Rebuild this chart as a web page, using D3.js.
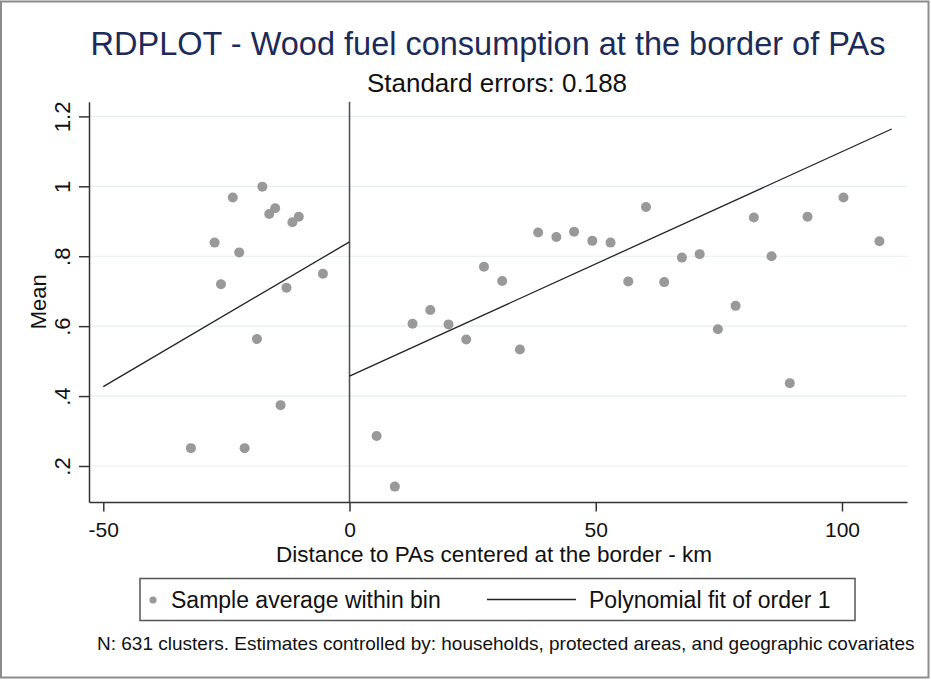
<!DOCTYPE html>
<html>
<head>
<meta charset="utf-8">
<script src="https://cdn.jsdelivr.net/npm/d3@7"></script>
<style>
  html, body { margin: 0; padding: 0; background: #fff; }
  svg { display: block; font-family: "Liberation Sans", Arial, Helvetica, sans-serif; }
</style>
</head>
<body>
<svg id="chart" width="931" height="681"></svg>
<script>
// ---- data ----
const binX = [-32.2, -27.4, -26.1, -23.7, -22.4, -21.3, -18.8, -17.7, -16.3, -15.1, -14.0, -12.8, -11.6, -10.3, -5.4,
              5.5, 9.2, 12.8, 16.4, 20.1, 23.7, 27.3, 31.0, 34.6, 38.3, 42.0, 45.6, 49.3, 53.0, 56.6,
              60.2, 63.9, 67.5, 71.1, 74.8, 78.4, 82.1, 85.7, 89.4, 93.0, 100.3, 107.6];
const binMean = [0.251, 0.839, 0.720, 0.968, 0.811, 0.251, 0.563, 0.999, 0.921, 0.937, 0.374, 0.710, 0.897, 0.913, 0.750,
                 0.286, 0.141, 0.607, 0.646, 0.605, 0.562, 0.770, 0.729, 0.533, 0.868, 0.855, 0.870, 0.844, 0.839, 0.728,
                 0.941, 0.726, 0.796, 0.806, 0.591, 0.658, 0.911, 0.800, 0.437, 0.913, 0.968, 0.843];
const fitLeftX = [-50, 0];
const fitLeftY = [0.427, 0.841];
const fitRightX = [0, 110.1];
const fitRightY = [0.457, 1.164];
const xTicks = [-50, 0, 50, 100];
const xTickLabels = ["-50", "0", "50", "100"];
const yTicks = [0.2, 0.4, 0.6, 0.8, 1.0, 1.2];
const yTickLabels = [".2", ".4", ".6", ".8", "1", "1.2"];
const titleText = "RDPLOT - Wood fuel consumption at the border of PAs";
const subtitleText = "Standard errors: 0.188";
const xTitle = "Distance to PAs centered at the border - km";
const yTitle = "Mean";
const legendLabels = ["Sample average within bin", "Polynomial fit of order 1"];
const noteText = "N: 631 clusters. Estimates controlled by: households, protected areas, and geographic covariates";

// ---- layout ----
const svg = d3.select("#chart");
const L = 89, R = 907, T = 101.7, B = 502;
const x = d3.scaleLinear().domain([-52.9, 113.2]).range([L, R]);
const y = d3.scaleLinear().domain([0.097, 1.242]).range([B, T]);

// outer border
svg.append("rect").attr("x", 1).attr("y", 1.5).attr("width", 927.5).attr("height", 676)
  .attr("fill", "#fff").attr("stroke", "#8c8c8c").attr("stroke-width", 2);

// grid
svg.append("g").selectAll("line").data(yTicks).join("line")
  .attr("x1", L).attr("x2", R)
  .attr("y1", d => y(d)).attr("y2", d => y(d))
  .attr("stroke", "#e6eef1").attr("stroke-width", 1.2);

// cutoff line
svg.append("line").attr("x1", x(0)).attr("x2", x(0)).attr("y1", T).attr("y2", B)
  .attr("stroke", "#555").attr("stroke-width", 1.6);

// points
svg.append("g").selectAll("circle").data(binX.map((d, i) => [d, binMean[i]])).join("circle")
  .attr("cx", d => x(d[0])).attr("cy", d => y(d[1])).attr("r", 5)
  .attr("fill", "#999");

// fit lines
const line = d3.line().x(d => x(d[0])).y(d => y(d[1]));
[[fitLeftX, fitLeftY], [fitRightX, fitRightY]].forEach(([xs, ys]) => {
  svg.append("path").datum(xs.map((d, i) => [d, ys[i]])).attr("d", line)
    .attr("fill", "none").attr("stroke", "#222").attr("stroke-width", 1.3);
});

// x axis
const xAxis = svg.append("g").attr("transform", `translate(0,${B})`)
  .call(d3.axisBottom(x).tickValues(xTicks).tickFormat((d, i) => xTickLabels[i]).tickSize(9.5).tickSizeOuter(0));
xAxis.select(".domain").attr("stroke", "#333").attr("stroke-width", 1.5);
xAxis.selectAll(".tick line").attr("stroke", "#333").attr("stroke-width", 1.5);
xAxis.selectAll(".tick text").attr("font-size", 21).attr("fill", "#111").attr("dy", null).attr("y", 34.5)
  .attr("font-family", "'Liberation Sans', Arial, sans-serif");

// y axis
const yAxis = svg.append("g").attr("transform", `translate(${L},0)`)
  .call(d3.axisLeft(y).tickValues(yTicks).tickFormat((d, i) => yTickLabels[i]).tickSize(10).tickSizeOuter(0));
yAxis.select(".domain").attr("stroke", "#333").attr("stroke-width", 1.5);
yAxis.selectAll(".tick line").attr("stroke", "#333").attr("stroke-width", 1.5);
yAxis.selectAll(".tick text").attr("font-size", 22).attr("fill", "#111")
  .attr("x", null).attr("dy", null).attr("text-anchor", "middle")
  .attr("transform", "translate(-19,0) rotate(-90)")
  .attr("font-family", "'Liberation Sans', Arial, sans-serif");

// titles
svg.append("text").attr("x", 488).attr("y", 55).attr("text-anchor", "middle")
  .attr("font-size", 32.5).attr("fill", "#1c2b58").text(titleText);
svg.append("text").attr("x", 497).attr("y", 92).attr("text-anchor", "middle")
  .attr("font-size", 26).attr("fill", "#111").text(subtitleText);
svg.append("text").attr("x", 494).attr("y", 561.5).attr("text-anchor", "middle")
  .attr("font-size", 22.5).attr("fill", "#111").text(xTitle);
svg.append("text").attr("transform", `translate(46,${(T + B) / 2}) rotate(-90)`).attr("text-anchor", "middle")
  .attr("font-size", 22).attr("fill", "#111").text(yTitle);

// legend
const lg = svg.append("g");
lg.append("rect").attr("x", 140).attr("y", 578.5).attr("width", 715).attr("height", 42)
  .attr("fill", "#fff").attr("stroke", "#555").attr("stroke-width", 1.5);
lg.append("circle").attr("cx", 153).attr("cy", 600).attr("r", 3.6).attr("fill", "#999");
lg.append("text").attr("x", 171).attr("y", 607.5).attr("font-size", 23).attr("fill", "#111").text(legendLabels[0]);
lg.append("line").attr("x1", 487).attr("x2", 576).attr("y1", 599.5).attr("y2", 599.5)
  .attr("stroke", "#222").attr("stroke-width", 1.3);
lg.append("text").attr("x", 589).attr("y", 607.5).attr("font-size", 23).attr("fill", "#111").text(legendLabels[1]);

// note
svg.append("text").attr("x", 97).attr("y", 649.5).attr("font-size", 19).attr("fill", "#111").text(noteText);
</script>
</body>
</html>
